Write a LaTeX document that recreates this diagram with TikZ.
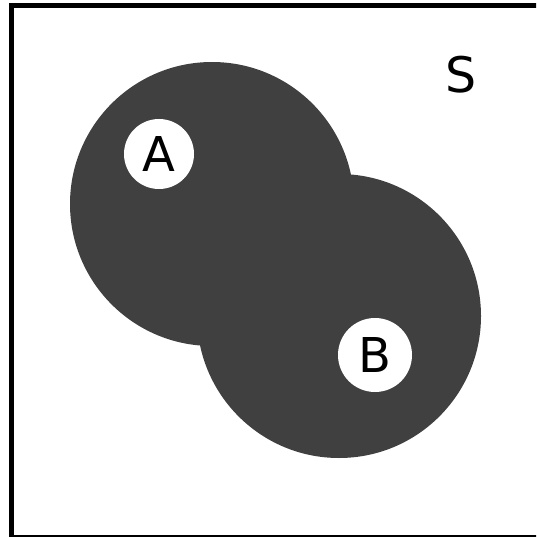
\documentclass[tikz,border=0pt]{standalone}
\usepackage{fontspec}
\setmainfont{DejaVu Sans}
\definecolor{venn}{HTML}{404040}
\begin{document}
\begin{tikzpicture}[x=1pt,y=-1pt,
  setcircle/.style={fill=venn},
  hole/.style={circle,fill=white,minimum size=70pt,inner sep=0pt,font=\fontsize{48}{48}\selectfont},
  lbl/.style={font=\fontsize{49}{49}\selectfont}]
\useasboundingbox (0,0) rectangle (536,537);
\begin{scope}
\clip (0,0) rectangle (536,537);
\draw[line width=5pt] (11.5,5.5) rectangle (540,537.5);
\end{scope}
\fill[setcircle] (212,204) circle (142);
\fill[setcircle] (339,316) circle (142);
\node[hole] (A) at (159,154) {A};
\node[hole,minimum size=74pt] (B) at (375,355) {B};
\node[lbl] (S) at (461,75) {S};
\end{tikzpicture}
\end{document}
